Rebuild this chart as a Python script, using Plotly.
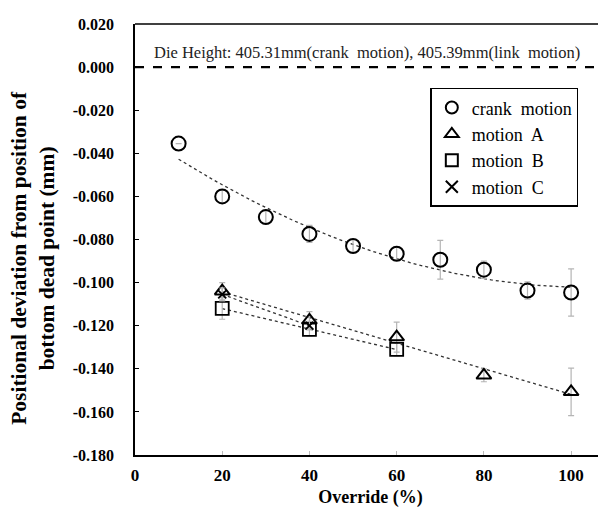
import numpy as np
import plotly.graph_objects as go

# Data
crank_x = [10, 20, 30, 40, 50, 60, 70, 80, 90, 100]
crank_y = [-0.0355, -0.0600, -0.0696, -0.0774, -0.0830, -0.0866, -0.0894, -0.0940, -0.1037, -0.1046]
crank_err = [0.000, 0.003, 0.003, 0.004, 0.003, 0.003, 0.009, 0.004, 0.004, 0.011]

a_x = [20, 40, 60, 80, 100]
a_y = [-0.1040, -0.1175, -0.1253, -0.1430, -0.1507]
a_err = [0.004, 0.004, 0.007, 0.003, 0.011]

b_x = [20, 40, 60]
b_y = [-0.1120, -0.1217, -0.1310]
b_err = [0.005, 0.003, 0.003]

c_x = [20, 40]
c_y = [-0.1055, -0.1200]
c_err = [0.003, 0.002]

x_ticks = [0, 20, 40, 60, 80, 100]
y_ticks = [0.020, 0.000, -0.020, -0.040, -0.060, -0.080, -0.100, -0.120, -0.140, -0.160, -0.180]

SERIF = "Liberation Serif, Times New Roman, serif"

fig = go.Figure()

# Trend lines
def trend(xs, ys, deg):
    p = np.polyfit(xs, ys, deg)
    xx = np.linspace(min(xs), max(xs), 60)
    return xx, np.polyval(p, xx)

for xs, ys, deg in [(crank_x, crank_y, 2), (a_x, a_y, 1), (b_x, b_y, 1), (c_x, c_y, 1)]:
    xx, yy = trend(xs, ys, deg)
    fig.add_trace(go.Scatter(x=xx, y=yy, mode="lines", showlegend=False,
                             line=dict(color="#333", width=1.3, dash="dot"), hoverinfo="skip"))

# Zero dashed line
fig.add_trace(go.Scatter(x=[0, 108], y=[0, 0], mode="lines", showlegend=False,
                         line=dict(color="black", width=2.4, dash="dash")))

err_style = dict(type="data", color="#b5b5b5", thickness=1.2, width=3)

def series(name, xs, ys, err, symbol, size, lw):
    fig.add_trace(go.Scatter(
        x=xs, y=ys, mode="markers", name=name,
        error_y=dict(array=err, **err_style),
        marker=dict(symbol=symbol, size=size, color="black",
                    line=dict(color="black", width=lw))))

series("crank  motion", crank_x, crank_y, crank_err, "circle-open", 14, 2)
series("motion  A", a_x, a_y, a_err, "triangle-up-open", 13, 2)
series("motion  B", b_x, b_y, b_err, "square-open", 13, 1.8)
series("motion  C", c_x, c_y, c_err, "x-thin-open", 8, 1.8)

fig.add_annotation(x=53.2, y=0.0015, xref="x", yref="y",
                   text="Die Height: 405.31mm(crank  motion), 405.39mm(link  motion)",
                   showarrow=False, yanchor="bottom",
                   font=dict(family=SERIF, size=16.5, color="#222"))

# Y axis title as rotated annotation (placed lower, as in reference)
fig.add_annotation(x=-0.217, y=0.457, xref="paper", yref="paper", textangle=-90,
                   text="<b>Positional deviation from position of<br>bottom dead point (mm)</b>",
                   showarrow=False, xanchor="center", yanchor="middle",
                   font=dict(family=SERIF, size=21.5, color="black"))

fig.update_layout(
    width=606, height=512,
    margin=dict(l=127, r=8, t=13, b=65),
    paper_bgcolor="white", plot_bgcolor="white",
    font=dict(family=SERIF, color="black"),
    legend=dict(x=0.627, y=0.852, xanchor="left", yanchor="top",
                bgcolor="white", bordercolor="black", borderwidth=1.5,
                font=dict(family=SERIF, size=18, color="black"),
                itemsizing="constant", tracegroupgap=0, itemwidth=30),
    xaxis=dict(range=[0, 108], tickvals=x_ticks, ticktext=[str(v) for v in x_ticks],
               showgrid=False, zeroline=False, showline=True, linecolor="black", linewidth=1.5,
               ticks="inside", ticklen=4, tickcolor="#bbb",
               tickfont=dict(family=SERIF, size=17, color="black", weight="bold"),
               title=dict(text="<b>Override (%)</b>", font=dict(family=SERIF, size=18), standoff=6),
               ticklabelstandoff=4),
    yaxis=dict(range=[-0.180, 0.020], tickvals=y_ticks,
               ticktext=[f"{v:.3f}" for v in y_ticks],
               showgrid=False, zeroline=False, showline=True, linecolor="black", linewidth=1.5,
               ticks="inside", ticklen=4, tickcolor="black",
               tickfont=dict(family=SERIF, size=16, color="black", weight="bold"),
               ticklabelstandoff=16),
)

# Top border line
fig.add_shape(type="line", xref="paper", yref="paper", x0=0, x1=1, y0=1, y1=1,
              line=dict(color="black", width=1.5))

fig.write_html("out.html")
